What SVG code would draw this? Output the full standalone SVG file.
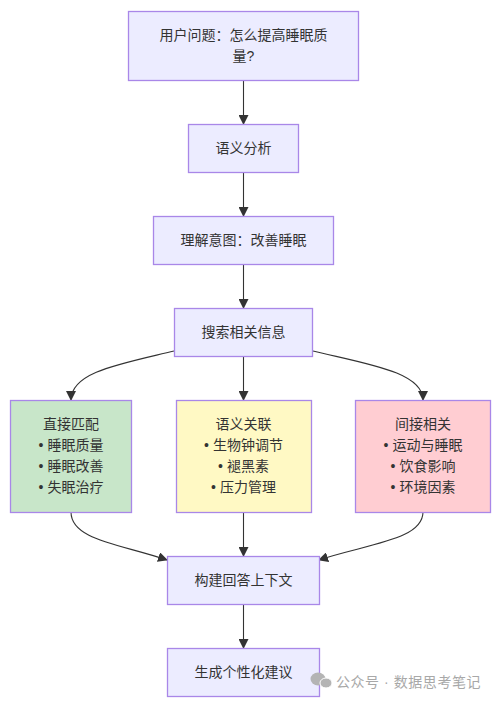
<svg xmlns="http://www.w3.org/2000/svg" width="504" height="703" viewBox="0 0 504 703">
<style>
text{font-family:"Liberation Sans","Noto Sans CJK SC",sans-serif;font-size:14px;fill:#333;text-anchor:middle}
.n{fill:#ececff;stroke:#a987e8;stroke-width:1.3}
.g{fill:#c8e6c9}.y{fill:#fff9c4}.p{fill:#ffcdd2}
.e{fill:none;stroke:#333;stroke-width:1.1}
.wm{font-size:14px;fill:#a8a8a8;text-anchor:start;letter-spacing:.55px}
</style>
<defs><marker id="a" markerUnits="userSpaceOnUse" markerWidth="10" markerHeight="10" refX="9" refY="5" orient="auto"><path d="M0 0L10 5L0 10z" fill="#333"/></marker></defs>
<rect width="504" height="703" fill="#fff"/>
<g id="edges">
<path class="e" marker-end="url(#a)" d="M243.500 80.500V124"/>
<path class="e" marker-end="url(#a)" d="M243.500 172.500V216"/>
<path class="e" marker-end="url(#a)" d="M243.500 264.500V308"/>
<path class="e" marker-end="url(#a)" d="M174 351C120 364 71 372 71 400"/>
<path class="e" marker-end="url(#a)" d="M243.500 356V400"/>
<path class="e" marker-end="url(#a)" d="M313 351C367 364 423 372 423 400"/>
<path class="e" marker-end="url(#a)" d="M71 512C71 540 120 544 167 560"/>
<path class="e" marker-end="url(#a)" d="M243.500 512V556"/>
<path class="e" marker-end="url(#a)" d="M423 512C423 540 367 544 319 560"/>
<path class="e" marker-end="url(#a)" d="M243.500 604V648"/>
</g>
<g id="n1"><rect class="n" x="128.500" y="11.500" width="230" height="69"/><text x="243.500" y="40">用户问题：怎么提高睡眠质</text><text x="243.500" y="61">量?</text></g>
<g id="n2"><rect class="n" x="188.500" y="124.500" width="110" height="48"/><text x="243.500" y="153">语义分析</text></g>
<g id="n3"><rect class="n" x="153.500" y="216.500" width="180" height="48"/><text x="243.500" y="245">理解意图：改善睡眠</text></g>
<g id="n4"><rect class="n" x="174.500" y="308.500" width="138" height="48"/><text x="243.500" y="337">搜索相关信息</text></g>
<g id="n5"><rect class="n g" x="10.500" y="400.500" width="121" height="112"/><text x="71" y="429">直接匹配</text><text x="71" y="450">•  睡眠质量</text><text x="71" y="471">•  睡眠改善</text><text x="71" y="492">•  失眠治疗</text></g>
<g id="n6"><rect class="n y" x="176.500" y="400.500" width="135" height="112"/><text x="243.500" y="429">语义关联</text><text x="243.500" y="450">•  生物钟调节</text><text x="243.500" y="471">•  褪黑素</text><text x="243.500" y="492">•  压力管理</text></g>
<g id="n7"><rect class="n p" x="355.500" y="400.500" width="135" height="112"/><text x="423" y="429">间接相关</text><text x="423" y="450">•  运动与睡眠</text><text x="423" y="471">•  饮食影响</text><text x="423" y="492">•  环境因素</text></g>
<g id="n8"><rect class="n" x="167.500" y="556.500" width="152" height="48"/><text x="243.500" y="585">构建回答上下文</text></g>
<g id="n9"><rect class="n" x="167.500" y="648.500" width="152" height="48"/><text x="243.500" y="677">生成个性化建议</text></g>
<g id="watermark"><ellipse cx="318" cy="679" rx="7.500" ry="6.500" fill="#b4b4b4"/><ellipse cx="326" cy="683" rx="6" ry="5" fill="#b4b4b4" stroke="#fff" stroke-width="1"/><text class="wm" x="336" y="687">公众号 · 数据思考笔记</text></g>
</svg>
